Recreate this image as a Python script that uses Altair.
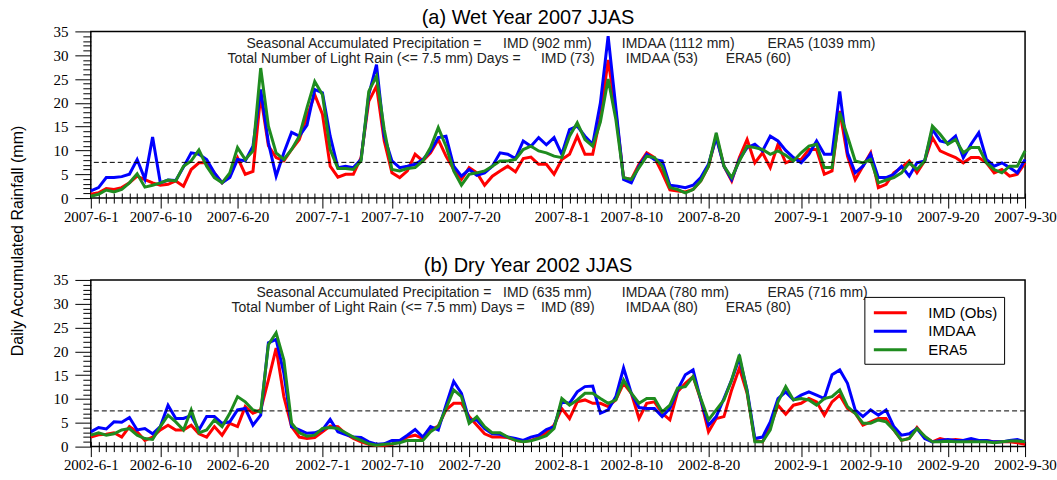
import altair as alt
import pandas as pd

# ---------------- data ----------------
days = list(range(122))  # 0 = Jun 1 ... 121 = Sep 30

imd_2007 = [0.8, 1.1, 2.0, 1.8, 2.2, 3.2, 4.6, 3.9, 3.2, 2.7,
            2.9, 3.6, 2.5, 6.0, 7.4, 7.4, 5.3, 3.2, 4.6, 8.5,
            5.0, 5.6, 21.5, 11.0, 8.5, 7.8, 10.2, 12.3, 17.2, 21.7,
            17.6, 6.7, 4.4, 5.0, 5.0, 8.5, 20.3, 23.5, 12.0, 5.3,
            4.3, 5.7, 9.2, 7.8, 9.5, 12.3, 8.8, 6.0, 3.9, 6.4,
            5.3, 2.7, 4.6, 5.7, 6.7, 5.5, 8.3, 8.6, 7.1, 7.1,
            5.0, 8.1, 9.2, 13.0, 9.2, 9.2, 17.0, 29.0, 18.0, 4.3,
            3.9, 7.1, 9.5, 8.5, 5.3, 1.7, 1.5, 1.3, 1.8, 3.6,
            6.7, 13.0, 6.7, 3.6, 8.5, 12.3, 7.4, 9.5, 6.4, 11.3,
            7.4, 8.1, 8.1, 10.2, 10.2, 5.0, 5.7, 18.3, 8.8, 3.9,
            6.7, 9.5, 2.2, 2.9, 5.3, 6.4, 7.8, 5.3, 7.8, 12.7,
            9.9, 9.2, 8.5, 7.4, 8.5, 8.5, 7.4, 5.3, 6.0, 4.6,
            5.0, 7.4]
imdaa_2007 = [1.5, 2.2, 4.3, 4.3, 4.5, 5.0, 8.1, 4.0, 12.8, 3.2,
              3.8, 3.7, 6.5, 9.5, 9.2, 8.1, 5.3, 3.2, 4.3, 8.1,
              7.8, 10.9, 22.8, 11.6, 4.6, 9.5, 13.8, 13.0, 15.3, 22.8,
              22.1, 13.0, 6.4, 6.7, 6.4, 8.1, 21.7, 28.0, 13.0, 7.8,
              6.4, 6.7, 7.1, 8.1, 9.9, 12.7, 13.0, 6.7, 4.6, 6.0,
              4.8, 5.3, 6.7, 9.5, 9.2, 8.3, 12.0, 10.9, 12.7, 11.2,
              12.7, 9.2, 14.4, 15.1, 13.0, 11.3, 20.0, 34.0, 19.0, 3.9,
              3.2, 6.7, 9.2, 8.1, 7.8, 2.7, 2.5, 2.2, 2.7, 4.3,
              7.1, 12.7, 6.7, 3.9, 8.1, 10.6, 11.3, 9.9, 13.0, 12.0,
              10.0, 8.5, 7.4, 9.2, 12.0, 9.2, 9.2, 22.4, 9.5, 5.3,
              6.7, 9.2, 4.3, 4.3, 5.0, 6.7, 4.6, 7.4, 7.8, 14.4,
              12.0, 11.6, 13.0, 8.5, 11.3, 13.7, 8.1, 6.7, 7.4, 6.4,
              5.3, 8.1]
era5_2007 = [0.4, 0.8, 1.7, 1.3, 1.8, 3.2, 5.1, 2.3, 2.7, 3.2,
             3.8, 3.6, 6.7, 7.8, 10.1, 6.7, 4.3, 3.2, 5.3, 10.6,
             8.1, 9.9, 27.3, 15.1, 9.5, 8.1, 10.2, 13.0, 19.0, 24.5,
             21.7, 10.2, 6.2, 6.2, 6.0, 7.8, 22.4, 25.6, 14.4, 6.0,
             5.7, 6.2, 6.4, 7.8, 10.6, 14.8, 10.9, 5.7, 2.7, 5.0,
             5.3, 5.7, 6.7, 7.8, 7.8, 8.1, 10.2, 10.9, 9.9, 9.5,
             8.8, 8.5, 13.0, 15.8, 12.3, 10.9, 16.0, 25.0, 16.5, 4.3,
             3.9, 6.4, 8.8, 8.5, 6.7, 2.2, 1.8, 1.1, 1.8, 3.6,
             6.7, 13.7, 6.7, 4.3, 7.8, 10.9, 10.6, 10.2, 9.2, 9.9,
             9.0, 7.8, 9.5, 10.9, 11.3, 6.4, 6.4, 17.9, 13.0, 7.8,
             7.4, 8.1, 3.2, 3.8, 4.3, 5.3, 7.4, 6.0, 7.8, 15.1,
             13.4, 11.3, 12.3, 9.5, 10.6, 10.6, 7.4, 6.0, 5.3, 6.7,
             6.7, 9.9]

imd_2002 = [2.0, 2.5, 2.6, 2.9, 2.0, 4.2, 3.1, 1.3, 2.0, 3.5,
            4.5, 3.5, 3.5, 4.5, 2.7, 2.0, 4.2, 2.4, 4.9, 4.2,
            8.4, 7.0, 7.7, 14.0, 20.7, 10.5, 4.2, 2.0, 1.7, 1.9,
            3.1, 4.3, 4.2, 2.7, 1.7, 1.0, 0.5, 0.3, 0.3, 0.5,
            1.0, 2.0, 2.4, 1.7, 3.5, 4.3, 7.7, 9.1, 9.1, 6.3,
            4.5, 2.7, 2.0, 2.0, 1.9, 1.3, 1.0, 1.3, 1.9, 2.9,
            4.5, 8.0, 5.9, 9.4, 9.8, 9.1, 9.1, 8.4, 9.8, 13.3,
            11.2, 5.9, 9.1, 9.4, 7.0, 5.6, 11.5, 13.3, 14.7, 9.8,
            3.1, 5.9, 6.3, 11.9, 16.5, 11.2, 1.3, 1.0, 4.2, 8.7,
            6.8, 8.7, 9.1, 10.1, 9.4, 6.6, 9.4, 10.8, 8.0, 7.0,
            4.5, 5.2, 5.9, 5.9, 3.5, 1.3, 1.7, 4.0, 2.0, 1.0,
            1.7, 1.3, 1.5, 1.3, 1.3, 1.3, 1.3, 1.0, 1.0, 1.0,
            0.8, 0.5]
imdaa_2002 = [3.1, 4.0, 3.7, 5.2, 5.1, 6.1, 3.5, 3.8, 2.7, 4.2,
              8.7, 5.9, 5.9, 6.5, 3.5, 6.3, 6.3, 4.9, 5.2, 7.7,
              8.0, 4.5, 6.6, 21.8, 22.5, 15.4, 4.2, 3.5, 2.8, 2.9,
              3.5, 5.7, 3.1, 2.5, 2.0, 1.9, 1.0, 0.5, 0.6, 1.3,
              1.3, 2.4, 3.6, 2.0, 4.2, 3.5, 8.7, 13.7, 11.2, 5.6,
              5.6, 3.8, 2.7, 2.6, 2.0, 1.7, 1.3, 2.0, 2.4, 3.6,
              4.2, 9.4, 9.1, 11.5, 12.6, 12.7, 7.0, 7.7, 10.5, 16.5,
              11.2, 8.2, 8.0, 8.0, 6.3, 8.0, 11.9, 15.1, 16.1, 9.8,
              4.5, 6.3, 10.1, 14.0, 18.6, 11.9, 1.7, 2.0, 5.2, 10.1,
              11.5, 9.8, 10.8, 11.5, 10.8, 10.1, 15.1, 16.1, 13.3, 7.7,
              6.3, 7.7, 6.6, 7.7, 4.2, 2.4, 2.7, 3.8, 1.7, 1.0,
              1.3, 1.5, 1.3, 1.3, 1.7, 1.3, 1.3, 1.0, 1.0, 1.3,
              1.5, 1.0]
era5_2002 = [2.4, 2.9, 2.4, 2.7, 3.5, 3.8, 2.4, 1.7, 1.5, 4.2,
             6.6, 5.2, 3.5, 7.7, 2.9, 3.5, 5.6, 4.2, 7.0, 10.5,
             9.4, 7.7, 7.3, 21.4, 23.9, 18.2, 4.9, 2.9, 2.2, 2.4,
             3.8, 4.0, 3.8, 2.9, 2.0, 1.3, 0.6, 0.3, 0.5, 0.6,
             0.8, 1.3, 1.3, 1.3, 3.1, 4.2, 8.0, 11.9, 10.5, 4.9,
             6.3, 4.2, 2.9, 2.9, 2.0, 1.3, 1.0, 1.2, 1.7, 2.3,
             3.8, 10.1, 8.7, 9.8, 11.2, 11.2, 10.1, 9.1, 9.8, 14.0,
             11.2, 9.1, 10.1, 10.1, 7.3, 8.7, 12.3, 12.6, 14.7, 10.1,
             5.6, 7.7, 9.8, 14.0, 19.3, 11.5, 1.0, 1.0, 3.5, 9.4,
             12.6, 9.8, 10.1, 9.8, 8.7, 10.1, 10.5, 11.9, 8.4, 7.0,
             4.9, 4.9, 5.6, 5.2, 3.5, 1.3, 1.7, 3.8, 2.2, 1.0,
             1.0, 1.1, 1.0, 1.0, 1.0, 1.0, 1.0, 0.8, 1.0, 1.2,
             1.2, 1.0]

series_names = ["IMD (Obs)", "IMDAA", "ERA5"]
series_colors = ["#ff0000", "#0000ff", "#1f8c1f"]

tick_days = [0, 9, 19, 30, 39, 49, 61, 70, 80, 92, 101, 111, 121]
tick_md = ["6-1", "6-10", "6-20", "7-1", "7-10", "7-20", "8-1",
           "8-10", "8-20", "9-1", "9-10", "9-20", "9-30"]

y_ticks = list(range(36))
light_rain_threshold = 7.5

titles = ["(a) Wet Year 2007 JJAS", "(b) Dry Year 2002 JJAS"]
season_line = "Seasonal Accumulated Precipitation ="
days_line = "Total Number of Light Rain (<= 7.5 mm) Days ="
totals_2007 = ["(902 mm)", "IMDAA (1112 mm)", "ERA5 (1039 mm)"]
counts_2007 = ["(73)", "IMDAA (53)", "ERA5 (60)"]
totals_2002 = ["(635 mm)", "IMDAA (780 mm)", "ERA5 (716 mm)"]
counts_2002 = ["(89)", "IMDAA (80)", "ERA5 (80)"]

W, H = 936, 167
SANS = "Liberation Sans"
SERIF = "Liberation Serif"


def make_df(vals_list):
    rows = []
    for name, vals in zip(series_names, vals_list):
        for d, v in zip(days, vals):
            rows.append({"day": d, "rain": v, "series": name})
    return pd.DataFrame(rows)


def x_axis(year):
    expr = " : ".join(f"datum.value == {d} ? '{year}-{md}'" for d, md in zip(tick_days, tick_md)) + " : ''"
    major = "indexof([" + ",".join(str(d) for d in tick_days) + "], datum.value) >= 0"
    return alt.Axis(values=days, tickCount=500, labelExpr=expr, title=None, grid=False, domain=False,
                    offset=-5,
                    tickSize={"condition": {"test": major, "value": 15}, "value": 10},
                    tickColor="black", tickWidth=1,
                    labelFont=SERIF, labelFontSize=15, labelColor="black",
                    labelPadding=1, labelOverlap=False, labelFlush=False)


y_axis = alt.Axis(values=y_ticks, tickCount=500,
                  labelExpr="datum.value % 5 == 0 ? '' + datum.value : ''",
                  title=None, grid=False, domain=False,
                  tickSize={"condition": {"test": "datum.value % 5 == 0", "value": 16}, "value": 8},
                  tickColor="black", tickWidth=1,
                  labelFont=SERIF, labelFontSize=15, labelColor="black",
                  labelPadding=7, labelOverlap=False, labelFlush=False)

one = pd.DataFrame({"k": [0]})


def txt(s, px, py, size=14, color="#222222", angle=None, align="left"):
    kw = dict(text=s, font=SANS, fontSize=size, color=color, align=align, baseline="middle")
    if angle is not None:
        kw["angle"] = angle
    return alt.Chart(one).mark_text(**kw).encode(x=alt.value(px), y=alt.value(py))


def panel(vals_list, year, title, title_y, totals, counts, season_x, days_x, legend, extras):
    df = make_df(vals_list)
    x = alt.X("day:Q", scale=alt.Scale(domain=[0, 121], nice=False, zero=False), axis=x_axis(year))
    y = alt.Y("rain:Q", scale=alt.Scale(domain=[0, 35], nice=False, zero=True), axis=y_axis)
    color = alt.Color("series:N", scale=alt.Scale(domain=series_names, range=series_colors),
                      legend=legend)
    layers = []
    for name in series_names:
        layers.append(alt.Chart(df).transform_filter(alt.datum.series == name)
                      .mark_line(strokeWidth=3).encode(x=x, y=y, color=color))
    layers.append(alt.Chart(one).mark_rule(color="black", strokeWidth=1, strokeDash=[5, 3])
                  .encode(y=alt.datum(light_rain_threshold)))
    layers += [
        txt(title, 438, title_y, size=20, color="black", align="center"),
        txt(season_line, season_x, 13),
        txt("IMD", 413, 13),
        txt(totals[0], 442, 13),
        txt(totals[1], 532, 13),
        txt(totals[2], 678, 13),
        txt(days_line, days_x, 28),
        txt("IMD", 451, 28),
        txt(counts[0], 480, 28),
        txt(counts[1], 536, 28),
        txt(counts[2], 636, 28),
    ]
    layers += extras
    return alt.layer(*layers).properties(width=W, height=H)


anchor_a = alt.Chart(one).mark_rule(opacity=0, strokeWidth=1).encode(
    x=alt.value(-89.5), x2=alt.value(-88.5), y=alt.value(-29.5))
ytitle = txt("Daily Accumulated Rainfall (mm)", -73, 210, size=16, color="black", angle=270, align="center")
anchor_b = alt.Chart(one).mark_rule(opacity=0, strokeWidth=1).encode(
    x=alt.value(965.5), x2=alt.value(966.5), y=alt.value(200.5))

legend_b = alt.Legend(orient="none", legendX=775, legendY=17, title=None, direction="vertical",
                      symbolType="M-2,0H2", symbolStrokeWidth=3, symbolSize=272,
                      symbolOffset=10,
                      labelFont=SANS, labelFontSize=15, labelColor="black", labelOffset=28,
                      strokeColor="black", fillColor="white", padding=6, rowPadding=0.5)

pa = panel([imd_2007, imdaa_2007, era5_2007], 2007, titles[0], -13, totals_2007, counts_2007,
           156, 137, None, [anchor_a, ytitle])
pb = panel([imd_2002, imdaa_2002, era5_2002], 2002, titles[1], -14, totals_2002, counts_2002,
           166, 141, legend_b, [anchor_b])

chart = alt.vconcat(pa, pb, spacing=82, bounds="flush").resolve_scale(
    color="independent").properties(padding=0, background="white").configure_view(
    stroke="black", strokeWidth=1.5)

chart.save("out.html", embed_options={"renderer": "svg", "actions": False})
